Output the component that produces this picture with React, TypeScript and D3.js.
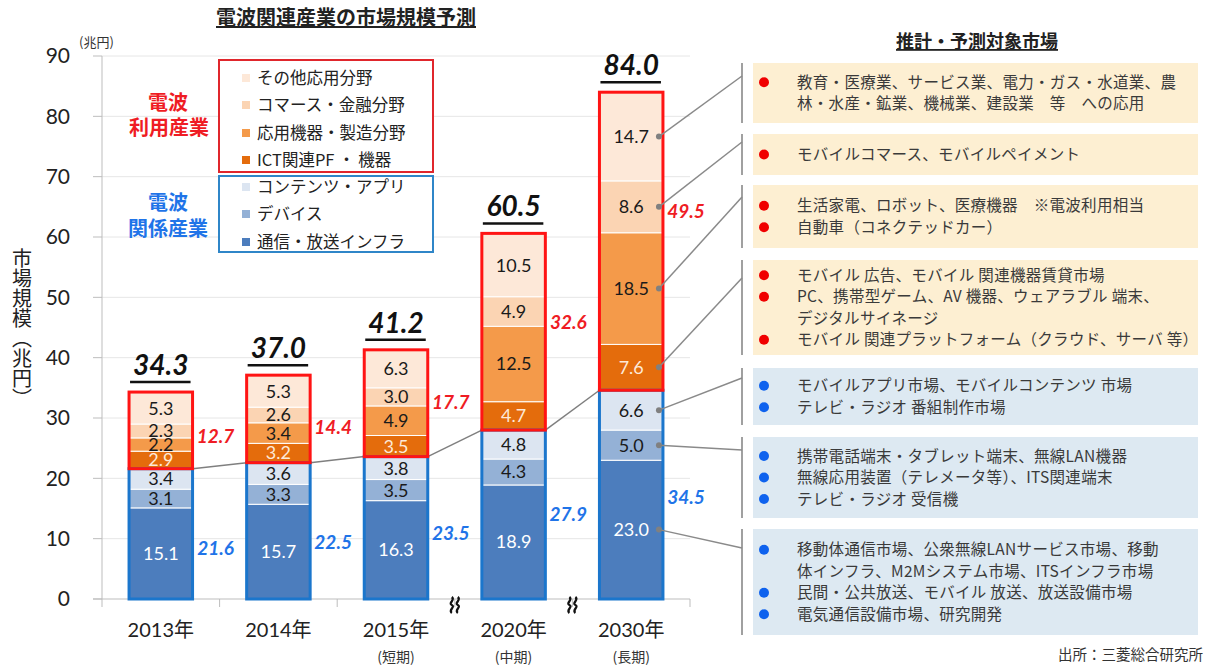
import React from 'react';
import * as d3 from 'd3';

// 電波関連産業の市場規模予測 (兆円)
const years = ['2013年', '2014年', '2015年', '2020年', '2030年'];
const terms = ['', '', '(短期)', '(中期)', '(長期)'];

const infra = [15.1, 15.7, 16.3, 18.9, 23.0];
const device = [3.1, 3.3, 3.5, 4.3, 5.0];
const content = [3.4, 3.6, 3.8, 4.8, 6.6];
const ictPf = [2.9, 3.2, 3.5, 4.7, 7.6];
const applied = [2.2, 3.4, 4.9, 12.5, 18.5];
const commerce = [2.3, 2.6, 3.0, 4.9, 8.6];
const other = [5.3, 5.3, 6.3, 10.5, 14.7];

const totals = [34.3, 37.0, 41.2, 60.5, 84.0];
const kankeiTotals = [21.6, 22.5, 23.5, 27.9, 34.5];
const riyouTotals = [12.7, 14.4, 17.7, 32.6, 49.5];

const yTicks = [0, 10, 20, 30, 40, 50, 60, 70, 80, 90];

const keys = ['infra', 'device', 'content', 'ictPf', 'applied', 'commerce', 'other'];
const seriesNames = ['通信・放送インフラ', 'デバイス', 'コンテンツ・アプリ', 'ICT関連PF ・ 機器', '応用機器・製造分野', 'コマース・金融分野', 'その他応用分野'];

const notes = [
  [['教育・医療業、サービス業、電力・ガス・水道業、農', '林・水産・鉱業、機械業、建設業　等　への応用']],
  [['モバイルコマース、モバイルペイメント']],
  [['生活家電、ロボット、医療機器　※電波利用相当'], ['自動車（コネクテッドカー）']],
  [['モバイル 広告、モバイル 関連機器賃貸市場'], ['PC、携帯型ゲーム、AV 機器、ウェアラブル 端末、', 'デジタルサイネージ'], ['モバイル 関連プラットフォーム（クラウド、サーバ 等）']],
  [['モバイルアプリ市場、モバイルコンテンツ 市場'], ['テレビ・ラジオ 番組制作市場']],
  [['携帯電話端末・タブレット端末、無線LAN機器'], ['無線応用装置（テレメータ等）、ITS関連端末'], ['テレビ・ラジオ 受信機']],
  [['移動体通信市場、公衆無線LANサービス市場、移動', '体インフラ、M2Mシステム市場、ITSインフラ市場'], ['民間・公共放送、モバイル 放送、放送設備市場'], ['電気通信設備市場、研究開発']],
];

const colors: Record<string, string> = {
  infra: '#4c7dbd',
  device: '#94b1d6',
  content: '#dce5f1',
  ictPf: '#e46c0c',
  applied: '#f49a4a',
  commerce: '#fbd4b3',
  other: '#fde8d8',
};
const labelColors: Record<string, string> = {
  infra: '#ffffff',
  ictPf: '#fde9d8',
};

const RED = '#ef1c24';
const BLUE = '#1f74e8';
const jp = "'Noto Sans CJK JP', sans-serif";
const num = "Lato, 'Noto Sans CJK JP', sans-serif";

// layout for the right hand panel (box index follows series from top: other .. infra)
const boxTop = [63, 134, 185, 260, 368, 437, 529];
const boxBottom = [123, 175, 248, 355, 425, 518, 635];
const boxTarget = [76, 142, 197, 278, 378, 450, 548];
const boxKey = ['other', 'commerce', 'applied', 'ictPf', 'content', 'device', 'infra'];
// where the subtotal labels sit inside their part (fraction from the bottom)
const riyouLabelAt = [0.42, 0.41, 0.51, 0.55, 0.6];
const kankeiLabelAt = [0.39, 0.42, 0.465, 0.5, 0.49];

// one wavy stroke of the axis break mark
const wave = 'M0,-8 C4,-5 -4,-2 0,0 C4,2 -4,5 0,8';

export default function App() {
  const x = d3.scaleBand<string>().domain(years).range([102, 690]).paddingInner(0.46).paddingOuter(0.23);
  const y = d3.scaleLinear().domain([0, 90]).range([599, 56]);
  const bw = x.bandwidth();

  const table = years.map((yr, i) => ({
    year: yr,
    infra: infra[i],
    device: device[i],
    content: content[i],
    ictPf: ictPf[i],
    applied: applied[i],
    commerce: commerce[i],
    other: other[i],
  }));
  const series = d3.stack<any>().keys(keys)(table);
  const blueTop = (i: number) => series[2][i][1];
  const barTop = (i: number) => series[6][i][1];

  const last = years.length - 1;
  const dotX = (x(years[last]) as number) + bw - 4;
  const bracketX = 742;

  const boundaries = d3.range(years.length + 1).map((k) => 102 + k * x.step());
  const linkLine = d3.line<[number, number]>();

  return (
    <svg width={1208} height={666} style={{ position: 'absolute', left: 0, top: 0, background: '#fff' }}>
      {/* titles */}
      <text x={346} y={25} textAnchor="middle" fontFamily={jp} fontWeight="bold" fontSize={20} fill="#222"
        style={{ textDecoration: 'underline' }}>電波関連産業の市場規模予測</text>
      <text x={977} y={48} textAnchor="middle" fontFamily={jp} fontWeight="bold" fontSize={18} fill="#222"
        style={{ textDecoration: 'underline' }}>推計・予測対象市場</text>

      {/* grid + y axis */}
      {yTicks.map((t) => (
        <g key={t}>
          {t > 0 && <line x1={102} x2={690} y1={y(t)} y2={y(t)} stroke="#e6e6e6" strokeWidth={1} />}
          <line x1={93} x2={102} y1={y(t)} y2={y(t)} stroke="#bdbdbd" strokeWidth={1} />
          <text x={70} y={y(t)} dy="0.35em" textAnchor="end" fontFamily={num} fontSize={21} fill="#222">{t}</text>
        </g>
      ))}
      <line x1={102} x2={102} y1={y(90)} y2={y(0)} stroke="#bdbdbd" strokeWidth={1} />
      <line x1={93} x2={690} y1={y(0)} y2={y(0)} stroke="#bdbdbd" strokeWidth={1} />
      {boundaries.map((bx, k) => (
        <line key={k} x1={bx} x2={bx} y1={y(0)} y2={y(0) + 8} stroke="#bdbdbd" strokeWidth={1} />
      ))}
      <text x={79} y={47} fontFamily={jp} fontSize={13} fill="#333">(兆円)</text>
      <text x={22} y={248} fontFamily={jp} fontSize={20} fill="#222"
        style={{ writingMode: 'vertical-rl' }}>市場規模（兆円）</text>

      {/* connector between blue tops */}
      {years.slice(0, -1).map((yr, i) => (
        <path key={yr} fill="none" stroke="#7f7f7f" strokeWidth={1.5}
          d={linkLine([[(x(yr) as number) + bw, y(blueTop(i))], [x(years[i + 1]) as number, y(blueTop(i + 1))]]) as string} />
      ))}

      {/* stacked bars */}
      {series.map((s) => (
        <g key={s.key}>
          {s.map((d, i) => (
            <rect key={i} x={x(years[i])} y={y(d[1])} width={bw} height={y(d[0]) - y(d[1])}
              fill={colors[s.key]} stroke="#fff" strokeWidth={1} />
          ))}
        </g>
      ))}
      {series.map((s) => (
        <g key={s.key + 'l'}>
          {s.map((d, i) => (
            <text key={i} x={(x(years[i]) as number) + bw / 2} y={y((d[0] + d[1]) / 2)} dy="0.36em"
              textAnchor="middle" fontFamily={num} fontSize={18} fill={labelColors[s.key] || '#1a1a1a'}>
              {(d[1] - d[0]).toFixed(1)}
            </text>
          ))}
        </g>
      ))}

      {/* group outlines */}
      {years.map((yr, i) => (
        <g key={yr}>
          <rect x={x(yr)} y={y(blueTop(i))} width={bw} height={y(0) - y(blueTop(i))} fill="none" stroke="#1b76cc" strokeWidth={3} />
          <rect x={x(yr)} y={y(barTop(i))} width={bw} height={y(blueTop(i)) - y(barTop(i))} fill="none" stroke="#ff1414" strokeWidth={3} />
        </g>
      ))}

      {/* totals */}
      {years.map((yr, i) => {
        const cx = (x(yr) as number) + bw / 2;
        const ty = y(barTop(i));
        return (
          <g key={yr}>
            <text x={cx} y={ty - 17} textAnchor="middle" fontFamily={num} fontWeight="bold" fontStyle="italic" fontSize={28} fill="#111">
              {totals[i].toFixed(1)}
            </text>
            <line x1={(x(yr) as number) + 1} x2={(x(yr) as number) + bw - 2} y1={ty - 10} y2={ty - 10} stroke="#111" strokeWidth={2.5} />
          </g>
        );
      })}

      {/* subtotals */}
      {years.map((yr, i) => {
        const lx = (x(yr) as number) + bw + 23;
        const ry = y(blueTop(i) + (barTop(i) - blueTop(i)) * riyouLabelAt[i]);
        const by = y(blueTop(i) * kankeiLabelAt[i]);
        return (
          <g key={yr} fontFamily={num} fontWeight="bold" fontStyle="italic" fontSize={19} textAnchor="middle">
            <text x={lx} y={ry} dy="0.36em" fill={RED}>{riyouTotals[i].toFixed(1)}</text>
            <text x={lx} y={by} dy="0.36em" fill={BLUE}>{kankeiTotals[i].toFixed(1)}</text>
          </g>
        );
      })}

      {/* axis breaks */}
      {[boundaries[3], boundaries[4]].map((bx) => (
        <g key={bx} transform={`translate(${bx},605)`} fill="none" stroke="#111" strokeWidth={2.2}>
          <path d={wave} transform="translate(-3,0)" />
          <path d={wave} transform="translate(3,0)" />
        </g>
      ))}

      {/* x labels */}
      {years.map((yr, i) => (
        <g key={yr}>
          <text x={(x(yr) as number) + bw / 2} y={637} textAnchor="middle" fontFamily={num} fontSize={20} fill="#222">{yr}</text>
          {terms[i] && (
            <text x={(x(yr) as number) + bw / 2} y={662} textAnchor="middle" fontFamily={jp} fontSize={14} fill="#333">{terms[i]}</text>
          )}
        </g>
      ))}

      {/* legend */}
      <rect x={219} y={60} width={214} height={112} fill="#fff" stroke="#e0262c" strokeWidth={2} />
      <rect x={219} y={176} width={214} height={76} fill="#fff" stroke="#2f86c8" strokeWidth={2} />
      {[6, 5, 4, 3, 2, 1, 0].map((k, j) => {
        const ly = [78, 105, 133, 160, 187, 214, 242][j];
        return (
          <g key={k}>
            <rect x={242} y={ly - 4} width={8} height={8} fill={colors[keys[k]]} />
            <text x={257} y={ly} dy="0.36em" fontFamily={jp} fontSize={16.5} fill="#222">{seriesNames[k]}</text>
          </g>
        );
      })}
      <g fontFamily={jp} fontWeight="bold" fontSize={20} textAnchor="middle">
        <text x={168} y={103} dy="0.36em" fill={RED}>電波</text>
        <text x={169} y={128} dy="0.36em" fill={RED}>利用産業</text>
        <text x={168} y={203} dy="0.36em" fill={BLUE}>電波</text>
        <text x={168} y={229} dy="0.36em" fill={BLUE}>関係産業</text>
      </g>

      {/* right panel */}
      {notes.map((box, b) => {
        const lines: { text: string; bullet: boolean }[] = [];
        box.forEach((item) => item.forEach((t, j) => lines.push({ text: t, bullet: j === 0 })));
        const mid = (boxTop[b] + boxBottom[b]) / 2;
        const step = 21.5;
        const first = mid - ((lines.length - 1) * step) / 2;
        const red = b < 4;
        const s = series[keys.indexOf(boxKey[b])][last];
        const dy = y((s[0] + s[1]) / 2);
        return (
          <g key={b}>
            <rect x={753} y={boxTop[b]} width={445} height={boxBottom[b] - boxTop[b]} fill={red ? '#fdefd2' : '#dde9f2'} />
            <line x1={bracketX} x2={bracketX} y1={boxTop[b]} y2={boxBottom[b]} stroke="#a0a0a0" strokeWidth={2} />
            <line x1={dotX} y1={dy} x2={bracketX} y2={boxTarget[b]} stroke="#8a8a8a" strokeWidth={1.5} />
            <circle cx={dotX} cy={dy} r={3} fill="#808080" />
            {lines.map((l, j) => (
              <g key={j}>
                {l.bullet && <circle cx={764} cy={first + j * step} r={5} fill={red ? '#f00000' : '#0e62ee'} />}
                <text x={797} y={first + j * step} dy="0.36em" fontFamily={jp} fontSize={15.5} letterSpacing={0.3} fill="#3a3a3a">{l.text}</text>
              </g>
            ))}
          </g>
        );
      })}
      <text x={1203} y={655} dy="0.36em" textAnchor="end" fontFamily={jp} fontSize={14.5} fill="#333">出所：三菱総合研究所</text>
    </svg>
  );
}
